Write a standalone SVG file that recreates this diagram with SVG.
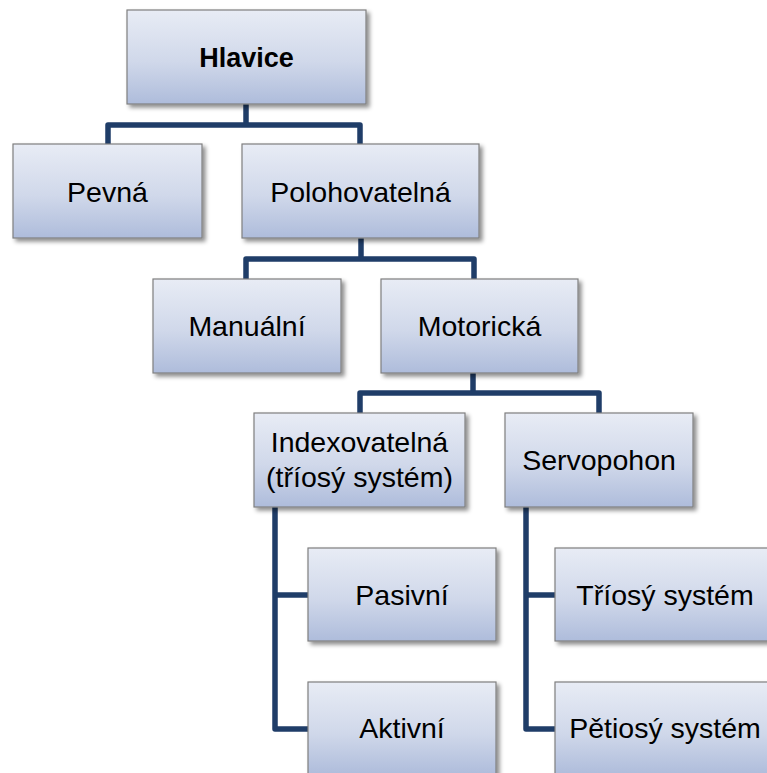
<svg xmlns="http://www.w3.org/2000/svg" width="767" height="773" viewBox="0 0 767 773">
<defs>
<linearGradient id="g" x1="0" y1="0" x2="0" y2="1">
<stop offset="0" stop-color="#e8ecf5"/>
<stop offset="0.55" stop-color="#d0d8ea"/>
<stop offset="1" stop-color="#aebcdb"/>
</linearGradient>
<filter id="sh" x="-10%" y="-10%" width="130%" height="140%">
<feDropShadow dx="3" dy="3" stdDeviation="2" flood-color="#000" flood-opacity="0.45"/>
</filter>
</defs>
<style>
.box{fill:url(#g);stroke:#7f7f7f;stroke-width:1.2;filter:url(#sh)}
.t{font-family:"Liberation Sans",Arial,sans-serif;font-size:28.5px;fill:#000;text-anchor:middle}
.b{font-weight:bold;font-size:27px}
.c{fill:none;stroke:#1f3d68;stroke-width:5.5;stroke-linejoin:round}
</style>
<rect width="767" height="773" fill="#fff"/>
<g id="connectors">
<polyline class="c" points="246,104 246,125"/>
<polyline class="c" points="108,145 108,125 360,125 360,145"/>
<polyline class="c" points="361,238 361,259"/>
<polyline class="c" points="246,279 246,259 474,259 474,279"/>
<polyline class="c" points="473,373 473,393"/>
<polyline class="c" points="360,413 360,393 599,393 599,413"/>
<polyline class="c" points="275,507 275,729 308,729"/>
<polyline class="c" points="275,595 308,595"/>
<polyline class="c" points="526,507 526,729 555,729"/>
<polyline class="c" points="526,595 555,595"/>
</g>
<g id="hlavice"><rect class="box" x="127" y="10" width="239" height="94"/><text class="t b" x="246.5" y="67">Hlavice</text></g>
<g id="pevna"><rect class="box" x="13" y="144" width="189" height="94"/><text class="t" x="107.5" y="202">Pevná</text></g>
<g id="polohovatelna"><rect class="box" x="242" y="144" width="237" height="94"/><text class="t" x="360.5" y="202">Polohovatelná</text></g>
<g id="manualni"><rect class="box" x="153" y="279" width="188" height="94"/><text class="t" x="247" y="336">Manuální</text></g>
<g id="motoricka"><rect class="box" x="381" y="279" width="197" height="94"/><text class="t" x="479.5" y="336">Motorická</text></g>
<g id="indexovatelna"><rect class="box" x="254" y="413" width="211" height="94"/><text class="t" x="359.5" y="452">Indexovatelná</text><text class="t" x="359.5" y="487">(tříosý systém)</text></g>
<g id="servopohon"><rect class="box" x="505" y="413" width="188" height="94"/><text class="t" x="599" y="470">Servopohon</text></g>
<g id="pasivni"><rect class="box" x="308" y="548" width="188" height="93"/><text class="t" x="402" y="605">Pasivní</text></g>
<g id="aktivni"><rect class="box" x="308" y="682" width="188" height="93"/><text class="t" x="402" y="738">Aktivní</text></g>
<g id="triosy"><rect class="box" x="555" y="548" width="222" height="93"/><text class="t" x="665" y="605">Tříosý systém</text></g>
<g id="petiosy"><rect class="box" x="555" y="682" width="222" height="93"/><text class="t" x="665" y="738">Pětiosý systém</text></g>
</svg>
